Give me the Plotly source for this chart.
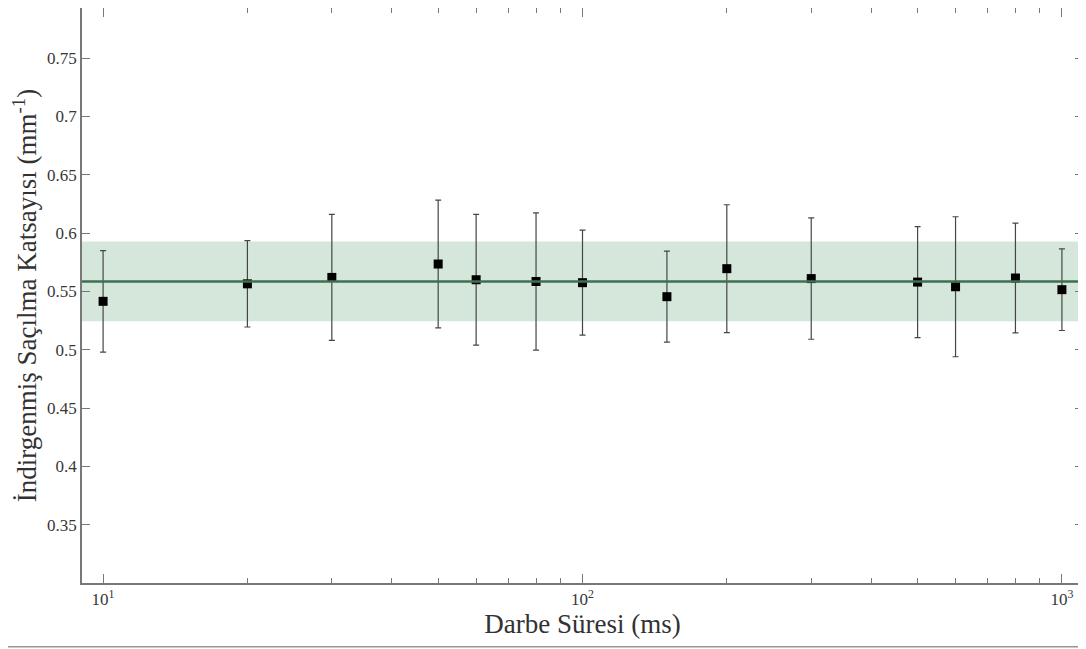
import plotly.graph_objects as go

# pulse durations (ms) and reduced scattering coefficient
pulse_ms = [10, 20, 30, 50, 60, 80, 100, 150, 200, 300, 500, 600, 800, 1000]
mu_s = [0.5415, 0.5565, 0.562, 0.5735, 0.560, 0.5585, 0.5575, 0.5455,
        0.5695, 0.561, 0.558, 0.554, 0.5615, 0.5515]
mu_err = [0.0435, 0.037, 0.054, 0.0548, 0.056, 0.0589, 0.045, 0.039,
          0.0548, 0.052, 0.0476, 0.06, 0.047, 0.035]

mean_val = 0.5585
band_low = 0.5244
band_high = 0.5927

y_ticks = [0.35, 0.4, 0.45, 0.5, 0.55, 0.6, 0.65, 0.7, 0.75]
x_ticks = [10, 100, 1000]
x_ticktext = ["10<sup>1</sup>", "10<sup>2</sup>", "10<sup>3</sup>"]
x_minor = [20, 30, 40, 50, 60, 70, 80, 90, 200, 300, 400, 500, 600, 700, 800, 900]

fig = go.Figure()

# spread band and mean line across the whole plot width
fig.add_shape(type="rect", xref="x domain", yref="y", x0=0, x1=1,
              y0=band_low, y1=band_high,
              fillcolor="rgb(212,231,218)", line_width=0, layer="below")
fig.add_shape(type="line", xref="x domain", yref="y", x0=0, x1=1,
              y0=mean_val, y1=mean_val,
              line=dict(color="rgb(62,112,82)", width=2.5))

fig.add_trace(go.Scatter(
    x=pulse_ms, y=mu_s,
    mode="markers",
    marker=dict(symbol="square", size=9, color="black"),
    error_y=dict(type="data", array=mu_err, visible=True,
                 color="rgb(70,70,70)", thickness=1.2, width=3),
    showlegend=False
))

font_family = "Liberation Serif"
axis_color = "rgb(120,120,120)"
tick_font = dict(family=font_family, size=17, color="rgb(55,55,55)")
title_font = dict(family=font_family, size=27, color="rgb(50,50,50)")

# page body adds an 8px offset, so size/margins are shrunk to compensate
fig.update_layout(
    width=1078, height=641,
    margin=dict(l=74, r=3, t=0, b=66),
    paper_bgcolor="white",
    plot_bgcolor="white",
    font=dict(family=font_family, color="rgb(60,60,60)", size=17),
    xaxis=dict(
        type="log",
        range=[0.956, 3.044],
        automargin=False,
        tickmode="array", tickvals=x_ticks, ticktext=x_ticktext,
        ticks="inside", ticklen=9, tickcolor=axis_color,
        minor=dict(tickmode="array", tickvals=x_minor, ticks="inside",
                   ticklen=5, tickcolor=axis_color, showgrid=False),
        showline=True, linecolor=axis_color, linewidth=1.5, mirror="ticks",
        showgrid=False, zeroline=False,
        tickfont=tick_font,
        title=dict(text="Darbe Süresi (ms)", font=title_font, standoff=4),
    ),
    yaxis=dict(
        range=[0.3, 0.793],
        automargin=False,
        tickmode="array", tickvals=y_ticks,
        ticks="inside", ticklen=8, tickcolor=axis_color,
        showline=True, linecolor=axis_color, linewidth=1.5, mirror="ticks",
        showgrid=False, zeroline=False,
        tickfont=tick_font,
        title=dict(text="İndirgenmiş Saçılma Katsayısı (mm<sup>-1</sup>)",
                   font=title_font, standoff=6),
    ),
)

# thin rule along the bottom edge of the image
fig.add_shape(type="line", xref="paper", yref="paper", x0=-0.082, x1=1.003,
              y0=-0.111, y1=-0.111, line=dict(color="rgb(150,150,150)", width=1.5))

fig.write_html("out.html")
